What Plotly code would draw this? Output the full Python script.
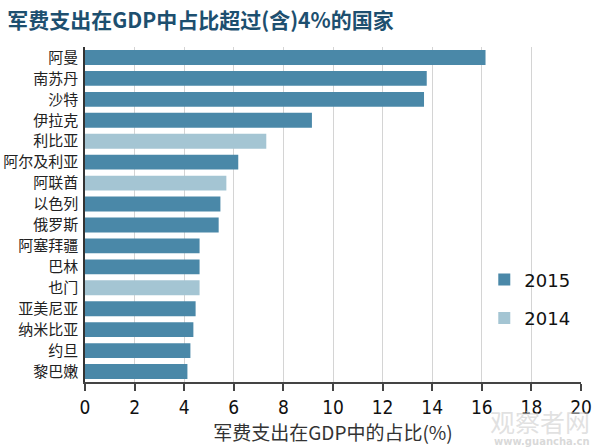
import plotly.graph_objects as go

# -- data --
countries = ['阿曼', '南苏丹', '沙特', '伊拉克', '利比亚', '阿尔及利亚', '阿联酋', '以色列',
             '俄罗斯', '阿塞拜疆', '巴林', '也门', '亚美尼亚', '纳米比亚', '约旦', '黎巴嫩']
share_pct = [16.15, 13.78, 13.67, 9.15, 7.31, 6.18, 5.70, 5.46,
             5.39, 4.62, 4.62, 4.62, 4.46, 4.37, 4.25, 4.13]
data_year = ['2015', '2015', '2015', '2015', '2014', '2015', '2014', '2015',
             '2015', '2015', '2015', '2014', '2015', '2015', '2015', '2015']

year_colors = {'2015': '#4a88a8', '2014': '#a4c5d3'}
x_ticks = list(range(0, 21, 2))

cjk_font = 'Noto Sans CJK SC, sans-serif'
num_font = 'DejaVu Sans Condensed, DejaVu Sans, sans-serif'

fig = go.Figure()

# one trace per year so the legend shows both colours
for i, year in enumerate(['2015', '2014']):
    xs = [v for v, y in zip(share_pct, data_year) if y == year]
    ys = [c for c, y in zip(countries, data_year) if y == year]
    fig.add_trace(go.Bar(x=xs, y=ys, orientation='h', name=year,
                         marker=dict(color=year_colors[year], line=dict(width=0)),
                         legendgroup=year, legendrank=i + 1))

fig.update_layout(
    width=600, height=448,
    margin=dict(l=85, r=19, t=47, b=66, autoexpand=False),
    paper_bgcolor='white', plot_bgcolor='white',
    barmode='overlay', bargap=0.29,
    font=dict(family=cjk_font, color='#222222'),
    title=dict(text='<b>军费支出在GDP中占比超过(含)4%的国家</b>',
               x=0.012, xanchor='left', y=0.955, yanchor='middle',
               font=dict(family=cjk_font, size=21, color='#1d4f6f')),
    legend=dict(x=0.805, xanchor='left', y=0.248, yanchor='middle',
                font=dict(family='DejaVu Sans, sans-serif', size=18, color='#111111'),
                tracegroupgap=12, bgcolor='rgba(0,0,0,0)', itemclick=False),
    showlegend=True,
)

fig.update_xaxes(
    range=[0, 20], tickvals=x_ticks, ticktext=[str(t) for t in x_ticks],
    showgrid=True, gridcolor='#d4d4d4', gridwidth=1,
    showline=True, linecolor='#444444', linewidth=1.5,
    ticks='outside', ticklen=7, tickcolor='#444444', tickwidth=1.5,
    tickfont=dict(family=num_font, size=19, color='#111111'),
    zeroline=False, automargin=False,
    title=dict(text='军费支出在GDP中的占比(%)', standoff=8,
               font=dict(family=cjk_font, size=19, color='#333333')),
)

fig.update_yaxes(
    categoryorder='array', categoryarray=countries, autorange='reversed',
    showline=True, linecolor='#333333', linewidth=1.5,
    ticks='', ticklabelstandoff=2, automargin=False,
    tickfont=dict(family=cjk_font, size=15, color='#222222'),
    showgrid=False,
)

# watermark from the source image
fig.add_annotation(text='观察者网', xref='paper', yref='paper', x=1.022, y=-0.115,
                   xanchor='right', yanchor='middle', showarrow=False,
                   font=dict(family=cjk_font, size=25, color='rgba(205,205,205,0.6)'))
fig.add_annotation(text='<b>www.guancha.cn</b>', xref='paper', yref='paper', x=1.022, y=-0.179,
                   xanchor='right', yanchor='middle', showarrow=False,
                   font=dict(family='DejaVu Sans, sans-serif', size=10, color='rgba(200,200,200,0.7)'))

# drop the default page margin so the 600x448 figure fills the window
fig.write_html('out.html', config={'displayModeBar': False},
               post_script="document.body.style.margin='0';")
